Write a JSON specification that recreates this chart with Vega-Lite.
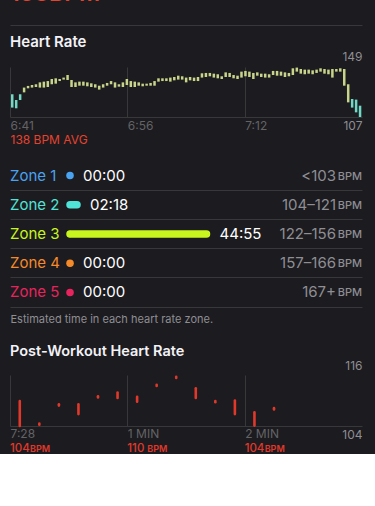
{
  "$schema": "https://vega.github.io/schema/vega-lite/v6.json",
  "background": "#1c1b1f",
  "padding": {"left": 10, "right": 13, "top": -17, "bottom": 0},
  "config": {"font": "Inter", "view": {"stroke": null}},
  "spacing": 42,
  "bounds": "flush",
  "vconcat": [
    {
      "width": 352,
      "height": 1,
      "data": {"values": [{"label": "138BPM"}]},
      "mark": {"type": "text", "align": "left", "baseline": "alphabetic", "dy": -24, "fontSize": 23, "fontWeight": 600, "color": "#e5432f"},
      "encoding": {
        "x": {"datum": 0, "type": "quantitative", "scale": {"domain": [0, 1]}, "axis": {"labels": false, "ticks": false, "grid": false, "title": null, "domainColor": "#38383a"}},
        "y": {"datum": 0, "type": "quantitative", "scale": {"domain": [0, 1]}, "axis": null},
        "text": {"field": "label"}
      }
    },
    {
      "width": 352,
      "height": 50,
      "title": {"text": "Heart Rate", "anchor": "start", "frame": "group", "baseline": "alphabetic", "offset": -12, "fontSize": 15, "fontWeight": 600, "color": "#f2f2f7"},
      "data": {"values": [
        {"t": 0.30, "lo": 114.9, "hi": 126.1}, {"t": 0.83, "lo": 114.3, "hi": 121.3}, {"t": 1.36, "lo": 121.3, "hi": 126.1},
        {"t": 1.89, "lo": 127.7, "hi": 131.7}, {"t": 2.42, "lo": 131.1, "hi": 133.1}, {"t": 2.95, "lo": 131.7, "hi": 133.9},
        {"t": 3.48, "lo": 132.2, "hi": 134.5}, {"t": 4.01, "lo": 131.7, "hi": 136.1}, {"t": 4.54, "lo": 131.7, "hi": 136.7},
        {"t": 5.07, "lo": 132.2, "hi": 137.2}, {"t": 5.60, "lo": 134.5, "hi": 138.9}, {"t": 6.13, "lo": 135.0, "hi": 139.5},
        {"t": 6.66, "lo": 137.2, "hi": 138.9}, {"t": 7.19, "lo": 138.4, "hi": 140.1}, {"t": 7.72, "lo": 138.1, "hi": 142.3},
        {"t": 8.25, "lo": 132.2, "hi": 138.1}, {"t": 8.78, "lo": 132.2, "hi": 136.1}, {"t": 9.31, "lo": 133.3, "hi": 136.7},
        {"t": 9.84, "lo": 133.3, "hi": 136.7}, {"t": 10.37, "lo": 132.8, "hi": 136.1}, {"t": 10.90, "lo": 132.2, "hi": 135.3},
        {"t": 11.43, "lo": 131.7, "hi": 134.5}, {"t": 11.96, "lo": 130.0, "hi": 133.3}, {"t": 12.49, "lo": 131.7, "hi": 134.5},
        {"t": 13.02, "lo": 133.3, "hi": 135.6}, {"t": 13.55, "lo": 134.5, "hi": 137.2}, {"t": 14.08, "lo": 131.7, "hi": 136.1},
        {"t": 14.61, "lo": 132.5, "hi": 134.5}, {"t": 15.14, "lo": 132.2, "hi": 136.1}, {"t": 15.67, "lo": 133.9, "hi": 138.9},
        {"t": 16.20, "lo": 132.2, "hi": 137.2}, {"t": 16.73, "lo": 132.2, "hi": 136.7}, {"t": 17.26, "lo": 133.3, "hi": 136.1},
        {"t": 17.79, "lo": 132.8, "hi": 135.0}, {"t": 18.32, "lo": 133.3, "hi": 135.0}, {"t": 18.85, "lo": 133.3, "hi": 135.6},
        {"t": 19.38, "lo": 133.3, "hi": 137.2}, {"t": 19.91, "lo": 136.7, "hi": 139.5}, {"t": 20.44, "lo": 137.2, "hi": 139.5},
        {"t": 20.97, "lo": 137.2, "hi": 139.5}, {"t": 21.50, "lo": 136.7, "hi": 140.1}, {"t": 22.03, "lo": 137.8, "hi": 140.6},
        {"t": 22.56, "lo": 138.4, "hi": 141.7}, {"t": 23.09, "lo": 138.4, "hi": 141.2}, {"t": 23.62, "lo": 136.1, "hi": 140.1},
        {"t": 24.15, "lo": 137.8, "hi": 140.6}, {"t": 24.68, "lo": 137.2, "hi": 140.1}, {"t": 25.21, "lo": 137.2, "hi": 140.6},
        {"t": 25.74, "lo": 140.1, "hi": 143.7}, {"t": 26.27, "lo": 140.6, "hi": 144.0}, {"t": 26.80, "lo": 141.2, "hi": 144.0},
        {"t": 27.33, "lo": 140.1, "hi": 143.4}, {"t": 27.86, "lo": 139.5, "hi": 142.9}, {"t": 28.39, "lo": 138.9, "hi": 141.2},
        {"t": 28.92, "lo": 140.6, "hi": 144.5}, {"t": 29.45, "lo": 140.6, "hi": 144.0}, {"t": 29.98, "lo": 139.5, "hi": 142.3},
        {"t": 30.51, "lo": 138.9, "hi": 141.7}, {"t": 31.04, "lo": 140.1, "hi": 145.1}, {"t": 31.57, "lo": 141.2, "hi": 145.7},
        {"t": 32.10, "lo": 140.6, "hi": 145.1}, {"t": 32.63, "lo": 138.9, "hi": 144.0}, {"t": 33.16, "lo": 141.7, "hi": 144.5},
        {"t": 33.69, "lo": 140.6, "hi": 143.4}, {"t": 34.22, "lo": 140.1, "hi": 143.4}, {"t": 34.75, "lo": 140.1, "hi": 142.9},
        {"t": 35.28, "lo": 142.3, "hi": 145.7}, {"t": 35.81, "lo": 141.7, "hi": 145.7}, {"t": 36.34, "lo": 141.7, "hi": 145.1},
        {"t": 36.87, "lo": 140.6, "hi": 144.5}, {"t": 37.40, "lo": 141.2, "hi": 144.0}, {"t": 37.93, "lo": 142.3, "hi": 147.9},
        {"t": 38.46, "lo": 145.1, "hi": 148.5}, {"t": 38.99, "lo": 143.4, "hi": 147.3}, {"t": 39.52, "lo": 142.9, "hi": 146.8},
        {"t": 40.05, "lo": 143.4, "hi": 146.8}, {"t": 40.58, "lo": 142.9, "hi": 146.2}, {"t": 41.11, "lo": 144.0, "hi": 146.8},
        {"t": 41.64, "lo": 145.1, "hi": 147.9}, {"t": 42.17, "lo": 143.4, "hi": 147.3}, {"t": 42.70, "lo": 142.9, "hi": 146.8},
        {"t": 43.23, "lo": 140.1, "hi": 147.3}, {"t": 43.76, "lo": 145.1, "hi": 147.3}, {"t": 44.29, "lo": 145.1, "hi": 147.9},
        {"t": 44.82, "lo": 133.3, "hi": 147.3}, {"t": 45.35, "lo": 119.3, "hi": 134.5}, {"t": 45.88, "lo": 114.9, "hi": 122.1},
        {"t": 46.41, "lo": 110.9, "hi": 121.6}, {"t": 46.94, "lo": 107.0, "hi": 116.5}
      ]},
      "mark": {"type": "rule", "strokeWidth": 2.5},
      "encoding": {
        "x": {"field": "t", "type": "quantitative", "scale": {"domain": [0, 47.2], "nice": false, "zero": false},
          "axis": {"values": [0, 15.73, 31.47], "labelExpr": "datum.value < 1 ? '6:41' : datum.value < 20 ? '6:56' : '7:12'", "labelAlign": "left", "labelPadding": 3, "labelFontSize": 12, "labelColor": "#636366", "ticks": false, "grid": true, "gridColor": "#38383a", "domainColor": "#38383a", "title": "138 BPM AVG", "titleAnchor": "start", "titleAlign": "left", "titleColor": "#e5432f", "titleFontSize": 12, "titleFontWeight": "normal", "titlePadding": 3}},
        "y": {"field": "lo", "type": "quantitative", "scale": {"domain": [107, 149], "nice": false, "zero": false},
          "axis": {"orient": "right", "values": [107, 149], "ticks": false, "domain": false, "grid": false, "title": null, "labelAlign": "right", "labelPadding": 0, "labelFontSize": 12, "labelColor": "#8e8e93",
            "labelBaseline": {"condition": {"test": "datum.value > 130", "value": "bottom"}, "value": "top"},
            "labelOffset": {"condition": {"test": "datum.value > 130", "value": -4}, "value": 3}}},
        "y2": {"field": "hi"},
        "color": {"field": "hi", "type": "quantitative", "scale": {"domain": [126, 132], "range": ["#72d8c6", "#c8d48a"], "clamp": true}, "legend": null}
      }
    },
    {
      "width": 352,
      "height": 174,
      "data": {"values": [
        {"zone": "Zone 1", "sec": 0, "time": "00:00", "range": "<103"},
        {"zone": "Zone 2", "sec": 138, "time": "02:18", "range": "104–121"},
        {"zone": "Zone 3", "sec": 2695, "time": "44:55", "range": "122–156"},
        {"zone": "Zone 4", "sec": 0, "time": "00:00", "range": "157–166"},
        {"zone": "Zone 5", "sec": 0, "time": "00:00", "range": "167+"}
      ]},
      "encoding": {
        "y": {"field": "zone", "type": "nominal", "scale": {"range": [2, 148], "paddingInner": 0, "paddingOuter": 0},
          "axis": {"grid": true, "bandPosition": 1, "labels": false, "ticks": false, "domain": false, "title": null, "gridColor": "#38383a"}}
      },
      "layer": [
        {
          "mark": {"type": "rule", "strokeWidth": 7.5, "strokeCap": "round"},
          "encoding": {
            "x": {"field": "sec", "type": "quantitative", "scale": {"domain": [-1185, 5765], "nice": false, "zero": false},
              "axis": {"orient": "bottom", "offset": -26, "labels": false, "ticks": false, "domain": false, "grid": false, "title": "Estimated time in each heart rate zone.", "titleAnchor": "start", "titleAlign": "left", "titleColor": "#8e8e93", "titleFontSize": 11, "titleFontWeight": "normal", "titlePadding": 6}},
            "x2": {"datum": 0},
            "color": {"field": "zone", "type": "nominal", "scale": {"domain": ["Zone 1", "Zone 2", "Zone 3", "Zone 4", "Zone 5"], "range": ["#4aa3f0", "#50e3d7", "#c8f51e", "#f58a2a", "#e8245e"]}, "legend": null}
          }
        },
        {
          "mark": {"type": "point", "filled": true, "size": 40, "opacity": 1},
          "encoding": {
            "x": {"datum": 0, "type": "quantitative"},
            "color": {"field": "zone", "type": "nominal", "legend": null}
          }
        },
        {
          "mark": {"type": "text", "align": "left", "baseline": "middle", "dx": 13, "fontSize": 15, "color": "#ffffff"},
          "encoding": {
            "x": {"field": "sec", "type": "quantitative"},
            "text": {"field": "time"}
          }
        },
        {
          "mark": {"type": "text", "align": "left", "baseline": "middle", "fontSize": 15},
          "encoding": {
            "x": {"datum": -1185, "type": "quantitative"},
            "text": {"field": "zone"},
            "color": {"field": "zone", "type": "nominal", "legend": null}
          }
        },
        {
          "mark": {"type": "text", "align": "right", "baseline": "middle", "dx": -26, "fontSize": 15, "color": "#8e8e93"},
          "encoding": {
            "x": {"datum": 5765, "type": "quantitative"},
            "text": {"field": "range"}
          }
        },
        {
          "mark": {"type": "text", "align": "right", "baseline": "middle", "dy": 1, "fontSize": 11, "fontWeight": 500, "color": "#8e8e93"},
          "encoding": {
            "x": {"datum": 5765, "type": "quantitative"},
            "text": {"value": "BPM"}
          }
        }
      ]
    },
    {
      "width": 352,
      "height": 51,
      "title": {"text": "Post-Workout Heart Rate", "anchor": "start", "frame": "group", "baseline": "alphabetic", "offset": -11, "fontSize": 14.5, "fontWeight": 600, "color": "#f2f2f7"},
      "layer": [
        {
          "data": {"values": [
            {"t": 5, "lo": 104.0, "hi": 109.9}, {"t": 15, "lo": 104.3, "hi": 104.6}, {"t": 25, "lo": 108.8, "hi": 109.1},
            {"t": 35, "lo": 106.8, "hi": 109.1}, {"t": 45, "lo": 110.7, "hi": 111.0}, {"t": 55, "lo": 110.6, "hi": 111.9},
            {"t": 65, "lo": 109.7, "hi": 110.9}, {"t": 75, "lo": 113.4, "hi": 113.7}, {"t": 85, "lo": 115.3, "hi": 115.6},
            {"t": 95, "lo": 110.6, "hi": 112.9}, {"t": 105, "lo": 109.6, "hi": 109.9}, {"t": 115, "lo": 106.8, "hi": 110.0},
            {"t": 125, "lo": 104.1, "hi": 107.2}, {"t": 135, "lo": 107.9, "hi": 108.2}
          ]},
          "mark": {"type": "rule", "strokeWidth": 2.6, "strokeCap": "round", "color": "#e0392b"},
          "encoding": {
            "x": {"field": "t", "type": "quantitative", "scale": {"domain": [0, 180], "nice": false, "zero": false},
              "axis": {"values": [0, 60, 120], "labelExpr": "datum.value == 0 ? '7:28' : datum.value == 60 ? '1 MIN' : '2 MIN'", "labelAlign": "left", "labelPadding": 2, "labelFontSize": 12, "labelColor": "#636366", "ticks": false, "grid": true, "gridColor": "#38383a", "domainColor": "#38383a", "title": null}},
            "y": {"field": "lo", "type": "quantitative", "scale": {"domain": [104, 116], "nice": false, "zero": false},
              "axis": {"orient": "right", "values": [104, 116], "ticks": false, "domain": false, "grid": false, "title": null, "labelAlign": "right", "labelPadding": 0, "labelFontSize": 12, "labelColor": "#8e8e93",
                "labelBaseline": {"condition": {"test": "datum.value > 110", "value": "bottom"}, "value": "top"},
                "labelOffset": {"condition": {"test": "datum.value > 110", "value": -3}, "value": 3.4}}},
            "y2": {"field": "hi"}
          }
        },
        {
          "data": {"values": [{"t": 0, "bpm": "104"}, {"t": 60, "bpm": "110"}, {"t": 120, "bpm": "104"}]},
          "mark": {"type": "text", "align": "left", "baseline": "middle", "dy": 22.5, "fontSize": 11.5, "fontWeight": 500, "color": "#e0392b"},
          "encoding": {
            "x": {"field": "t", "type": "quantitative"},
            "y": {"datum": 104, "type": "quantitative"},
            "text": {"field": "bpm"}
          }
        },
        {
          "data": {"values": [{"t": 0}, {"t": 60}, {"t": 120}]},
          "mark": {"type": "text", "align": "left", "baseline": "middle", "dx": 20, "dy": 23, "fontSize": 9, "fontWeight": 600, "color": "#e0392b"},
          "encoding": {
            "x": {"field": "t", "type": "quantitative"},
            "y": {"datum": 104, "type": "quantitative"},
            "text": {"value": "BPM"}
          }
        }
      ]
    }
  ]
}
